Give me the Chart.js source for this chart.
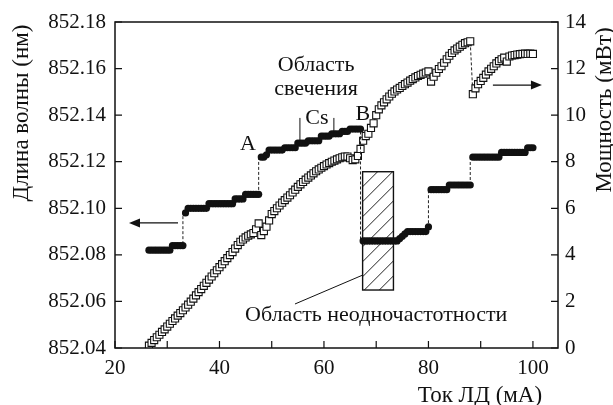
<!DOCTYPE html>
<html><head><meta charset="utf-8">
<script src="https://cdn.jsdelivr.net/npm/chart.js@4/dist/chart.umd.min.js"></script>
<style>html,body{margin:0;padding:0;background:#fff}#wrap{width:613px;height:405px}</style>
</head><body><div id="wrap"><canvas id="c" width="613" height="405"></canvas></div>
<script>
// Ток ЛД (мА) for both series
const currents = [26.5,27,27.5,28,28.5,29,29.5,30,30.5,31,31.5,32,32.5,33,33.5,34,34.5,35,35.5,36,36.5,37,37.5,38,38.5,39,39.5,40,40.5,41,41.5,42,42.5,43,43.5,44,44.5,45,45.5,46,46.5,47,47.5,48,48.5,49,49.5,50,50.5,51,51.5,52,52.5,53,53.5,54,54.5,55,55.5,56,56.5,57,57.5,58,58.5,59,59.5,60,60.5,61,61.5,62,62.5,63,63.5,64,64.5,65,65.5,66,66.5,67,67.5,68,68.5,69,69.5,70,70.5,71,71.5,72,72.5,73,73.5,74,74.5,75,75.5,76,76.5,77,77.5,78,78.5,79,79.5,80,80.5,81,81.5,82,82.5,83,83.5,84,84.5,85,85.5,86,86.5,87,87.5,88,88.5,89,89.5,90,90.5,91,91.5,92,92.5,93,93.5,94,94.5,95,95.5,96,96.5,97,97.5,98,98.5,99,99.5,100];
// Длина волны (нм)
const wavelength = [852.082,852.082,852.082,852.082,852.082,852.082,852.082,852.082,852.082,
852.084,852.084,852.084,852.084,852.084,
852.098,
852.100,852.100,852.100,852.100,852.100,852.100,852.100,852.100,
852.102,852.102,852.102,852.102,852.102,852.102,852.102,852.102,852.102,852.102,
852.104,852.104,852.104,852.104,
852.106,852.106,852.106,852.106,852.106,852.106,
852.122,852.122,852.123,
852.125,852.125,852.125,852.125,852.125,852.125,
852.126,852.126,852.126,852.126,852.126,
852.128,852.128,852.128,852.128,
852.129,852.129,852.129,852.129,852.129,
852.131,852.131,852.131,852.131,
852.132,852.132,852.132,852.132,
852.133,852.133,852.133,
852.134,852.134,852.134,852.134,852.134,
852.086,852.086,852.086,852.086,852.086,852.086,852.086,852.086,852.086,852.086,852.086,852.086,852.086,852.086,
852.087,852.088,852.089,
852.090,852.090,852.090,852.090,852.090,852.090,852.090,852.090,
852.092,
852.108,852.108,852.108,852.108,852.108,852.108,852.108,
852.110,852.110,852.110,852.110,852.110,852.110,852.110,852.110,852.110,
852.122,852.122,852.122,852.122,852.122,852.122,852.122,852.122,852.122,852.122,852.122,
852.124,852.124,852.124,852.124,852.124,852.124,852.124,852.124,852.124,852.124,
852.126,852.126,852.126];
// Мощность (мВт)
const power = [0.10,0.22,0.34,0.46,0.57,0.69,0.80,0.92,1.04,1.16,1.27,1.39,1.50,1.62,1.74,1.86,1.99,2.12,2.26,2.40,2.53,2.67,2.80,2.94,3.07,3.21,3.34,3.47,3.60,3.73,3.86,3.99,4.12,4.27,4.42,4.56,4.66,4.75,4.82,4.88,4.94,5.10,5.35,
4.85,5.02,5.21,5.48,5.75,5.88,6.00,6.12,6.24,6.35,6.46,6.56,6.68,6.80,6.92,7.03,7.13,7.23,7.32,7.41,7.50,7.59,7.67,7.74,7.81,7.88,7.94,8.00,8.05,8.10,8.15,8.19,8.22,8.22,8.15,8.07,8.10,8.25,
8.55,8.90,9.10,9.20,9.45,9.65,10.00,10.25,10.42,10.55,10.68,10.80,10.92,11.02,11.10,11.17,11.25,11.33,11.40,11.48,11.55,11.62,11.68,11.73,11.78,11.83,11.88,
11.44,11.65,11.82,11.98,12.10,12.25,12.40,12.55,12.67,12.78,12.86,12.94,13.02,13.09,13.13,13.17,
10.90,11.15,11.33,11.47,11.60,11.74,11.88,11.99,12.10,12.22,12.32,12.40,12.47,12.30,12.52,12.56,12.58,12.60,12.62,12.63,12.64,12.63,12.64,12.63];

const xRange = [20, 104.8];
const wlRange = [852.04, 852.18];
const pwRange = [0, 14];
const xLabelTicks = [20, 40, 60, 80, 100];

// annotation anchors (data coordinates)
const hatchX = [67.4, 73.3];
const hatchY = [852.0649, 852.1157];

const SERIF = '"Liberation Serif", "Times New Roman", serif';

const annot = {
  id: 'annot',
  beforeDatasetsDraw(chart) {
    const {ctx, scales: {x, y}} = chart;
    const l = x.getPixelForValue(hatchX[0]), r = x.getPixelForValue(hatchX[1]);
    const t = y.getPixelForValue(hatchY[1]), b = y.getPixelForValue(hatchY[0]);
    ctx.save();
    ctx.fillStyle = '#fff';
    ctx.fillRect(l, t, r - l, b - t);
    ctx.beginPath(); ctx.rect(l, t, r - l, b - t); ctx.clip();
    ctx.strokeStyle = '#222'; ctx.lineWidth = 1;
    ctx.beginPath();
    const w = r - l;
    for (let k = 0; k < (b - t) + w; k += 15) {
      ctx.moveTo(l, t + k); ctx.lineTo(r, t + k - w);
    }
    ctx.stroke();
    ctx.restore();
    ctx.save();
    ctx.strokeStyle = '#111'; ctx.lineWidth = 1.4;
    ctx.strokeRect(l, t, r - l, b - t);
    ctx.restore();
  },
  afterDatasetsDraw(chart) {
    const {ctx, chartArea: ca, scales: {x, y, y1}} = chart;
    ctx.save();
    ctx.strokeStyle = '#111'; ctx.fillStyle = '#111';
    // frame
    ctx.lineWidth = 1.5;
    ctx.strokeRect(ca.left, ca.top, ca.right - ca.left, ca.bottom - ca.top);
    // inward ticks
    ctx.lineWidth = 1.2;
    ctx.beginPath();
    x.ticks.forEach(tk => { const px = x.getPixelForValue(tk.value); ctx.moveTo(px, ca.bottom); ctx.lineTo(px, ca.bottom - 7); });
    y.ticks.forEach(tk => { const py = y.getPixelForValue(tk.value); ctx.moveTo(ca.left, py); ctx.lineTo(ca.left + 7, py); });
    y1.ticks.forEach(tk => { const py = y1.getPixelForValue(tk.value); ctx.moveTo(ca.right, py); ctx.lineTo(ca.right - 7, py); });
    ctx.stroke();

    // Cs marker lines
    ctx.lineWidth = 1;
    ctx.beginPath();
    ctx.moveTo(x.getPixelForValue(55.4), y.getPixelForValue(852.1388));
    ctx.lineTo(x.getPixelForValue(55.4), y.getPixelForValue(852.1293));
    ctx.moveTo(x.getPixelForValue(61.9), y.getPixelForValue(852.1388));
    ctx.lineTo(x.getPixelForValue(61.9), y.getPixelForValue(852.1327));
    // leader line to hatched region
    ctx.moveTo(x.getPixelForValue(54.45), y.getPixelForValue(852.0589));
    ctx.lineTo(x.getPixelForValue(hatchX[0]), y.getPixelForValue(852.0713));
    ctx.stroke();

    // arrows
    function arrow(x0, y0, x1, y1p) {
      const dir = Math.sign(x1 - x0);
      ctx.beginPath(); ctx.moveTo(x0, y0); ctx.lineTo(x1 - dir * 8, y1p); ctx.lineWidth = 1.2; ctx.stroke();
      ctx.beginPath(); ctx.moveTo(x1, y1p); ctx.lineTo(x1 - dir * 11, y1p - 4.5); ctx.lineTo(x1 - dir * 11, y1p + 4.5); ctx.closePath(); ctx.fill();
    }
    const ly = y.getPixelForValue(852.0937);
    arrow(x.getPixelForValue(32.06), ly, x.getPixelForValue(22.68), ly);
    const ry = y1.getPixelForValue(11.29);
    arrow(x.getPixelForValue(92.34), ry, x.getPixelForValue(101.72), ry);

    // texts
    ctx.fillStyle = '#111';
    ctx.textAlign = 'center';
    ctx.textBaseline = 'alphabetic';
    ctx.font = '22px ' + SERIF;
    const txt = (s, xv, yv) => ctx.fillText(s, x.getPixelForValue(xv), y.getPixelForValue(yv));
    txt('A', 45.45, 852.1250);
    txt('B', 67.46, 852.1379);
    txt('Cs', 58.66, 852.1362);
    txt('Область', 58.5, 852.1590);
    txt('свечения', 58.5, 852.1487);
    txt('Область неодночастотности', 70.0, 852.0516);

    // axis titles
    ctx.font = '23px ' + SERIF;
    ctx.fillText('Ток ЛД (мА)', 480, 402);
    ctx.save();
    ctx.translate(22, 113); ctx.rotate(-Math.PI / 2);
    ctx.textBaseline = 'middle';
    ctx.fillText('Длина волны (нм)', 0, 0);
    ctx.restore();
    ctx.save();
    ctx.translate(605, 110); ctx.rotate(-Math.PI / 2);
    ctx.textBaseline = 'middle';
    ctx.fillText('Мощность (мВт)', 0, 0);
    ctx.restore();
    ctx.restore();
  }
};

const tickFont = {family: SERIF, size: 21};

new Chart(document.getElementById('c'), {
  type: 'line',
  data: {
    datasets: [
      {
        label: 'Длина волны',
        data: currents.map((c, i) => ({x: c, y: wavelength[i]})),
        yAxisID: 'y',
        borderColor: '#222', borderWidth: 1, borderDash: [3, 2],
        stepped: 'after',
        pointStyle: 'circle', pointRadius: 3.6, pointBorderWidth: 0,
        pointBackgroundColor: '#111', pointBorderColor: '#111',
        fill: false
      },
      {
        label: 'Мощность',
        data: currents.map((c, i) => ({x: c, y: power[i]})),
        yAxisID: 'y1',
        borderColor: '#222', borderWidth: 1, borderDash: [3, 2],
        pointStyle: 'rect', pointRadius: 5, pointBorderWidth: 1.1,
        pointBackgroundColor: '#fff', pointBorderColor: '#111',
        fill: false
      }
    ]
  },
  options: {
    responsive: false,
    animation: false,
    layout: {padding: {top: 22, left: 0, right: 0, bottom: 0}},
    plugins: {legend: {display: false}, tooltip: {enabled: false}},
    scales: {
      x: {
        type: 'linear', min: xRange[0], max: xRange[1],
        afterFit(s) { s.height = 57; },
        grid: {display: false, drawTicks: false},
        border: {display: false},
        ticks: {
          stepSize: 10, includeBounds: false, autoSkip: false, maxRotation: 0,
          padding: 8, color: '#111', font: tickFont,
          callback: v => xLabelTicks.includes(v) ? String(v) : ''
        }
      },
      y: {
        type: 'linear', position: 'left', min: wlRange[0], max: wlRange[1],
        afterFit(s) { s.width = 115; },
        grid: {display: false, drawTicks: false},
        border: {display: false},
        ticks: {stepSize: 0.02, padding: 9, color: '#111', font: tickFont, callback: v => Number(v).toFixed(2)}
      },
      y1: {
        type: 'linear', position: 'right', min: pwRange[0], max: pwRange[1],
        afterFit(s) { s.width = 55; },
        grid: {display: false, drawTicks: false},
        border: {display: false},
        ticks: {stepSize: 2, padding: 7, color: '#111', font: tickFont}
      }
    }
  },
  plugins: [annot]
});
</script>
</body></html>
